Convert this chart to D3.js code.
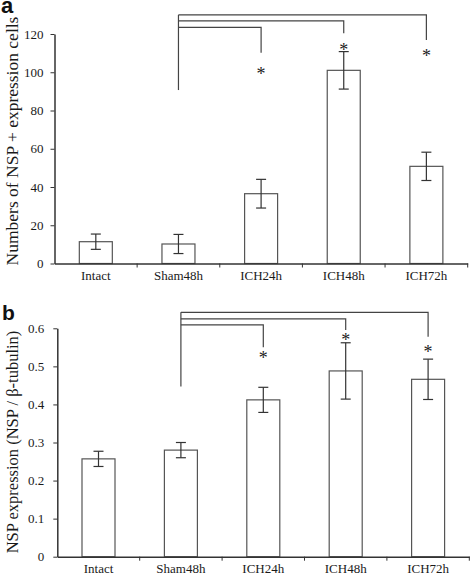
<!DOCTYPE html>
<html><head><meta charset="utf-8">
<script src="https://cdn.jsdelivr.net/npm/d3@7"></script>
<style>body{margin:0;background:#fff}svg{display:block}</style>
</head><body>
<script>
const categories = ["Intact","Sham48h","ICH24h","ICH48h","ICH72h"];
// Panel a
const countMeans = [11.4, 10.2, 36.5, 101, 50.8];
const countErrs  = [4.0, 5.0, 7.5, 9.8, 7.4];
const countTicks = [0,20,40,60,80,100,120];
// Panel b
const exprMeans = [0.257, 0.280, 0.412, 0.488, 0.466];
const exprErrs  = [0.020, 0.020, 0.033, 0.074, 0.053];
const exprTicks = [0,0.1,0.2,0.3,0.4,0.5,0.6];
// significance brackets: from Sham48h to target, level, end
const bracketA = {start:90.7, levels:[123.5,126.9,130], targets:["ICH24h","ICH48h","ICH72h"], ends:[110.2,120.4,116.9], stars:[100.7,113.4,110.2]};
const bracketB = {start:0.447, levels:[0.609,0.625,0.642], targets:["ICH24h","ICH48h","ICH72h"], ends:[0.550,0.5955,0.578], stars:[0.530,0.578,0.545]};

const W=472,H=575;
const svg=d3.select("body").append("svg").attr("width",W).attr("height",H);
const serif="Liberation Serif, Times New Roman, serif";

function panel(o){
  const g=svg.append("g");
  const x=d3.scaleBand().domain(categories).range([o.x0,o.x1]);
  const y=d3.scaleLinear().domain([0,o.max]).range([o.y0,o.yTop]);
  const bw=33;
  g.selectAll("rect.bar").data(categories).join("rect")
    .attr("x",d=>x(d)+x.bandwidth()/2-bw/2).attr("width",bw)
    .attr("y",(d,i)=>y(o.means[i])).attr("height",(d,i)=>y(0)-y(o.means[i]))
    .attr("fill","#fff").attr("stroke","#555").attr("stroke-width",1.2);
  const cap=10;
  categories.forEach((c,i)=>{
    const cx=x(c)+x.bandwidth()/2;
    const hi=y(o.means[i]+o.errs[i]), lo=y(o.means[i]-o.errs[i]);
    g.append("line").attr("x1",cx).attr("x2",cx).attr("y1",hi).attr("y2",lo).attr("stroke","#333").attr("stroke-width",1.2);
    [hi,lo].forEach(v=>g.append("line").attr("x1",cx-cap/2).attr("x2",cx+cap/2).attr("y1",v).attr("y2",v).attr("stroke","#333").attr("stroke-width",1.2));
  });
  const ya=g.append("g").attr("transform",`translate(${o.x0},0)`)
    .call(d3.axisLeft(y).tickValues(o.ticks).tickSize(4).tickSizeOuter(0).tickFormat(o.fmt));
  ya.select(".domain").attr("stroke","#333").attr("stroke-width",1.5);
  ya.selectAll(".tick line").attr("stroke","#333");
  ya.selectAll("text").attr("font-family",serif).attr("font-size",13).attr("fill","#1a1a1a").attr("x",o.tickGap);
  const xa=g.append("g").attr("transform",`translate(0,${o.y0})`)
    .call(d3.axisBottom(x).tickSize(0).tickSizeOuter(0));
  xa.select(".domain").attr("stroke","#333").attr("stroke-width",1.5);
  xa.selectAll("text").attr("font-family",serif).attr("font-size",13).attr("fill","#1a1a1a").attr("dy","1.0em");
  const bounds=categories.map(c=>x(c)+x.bandwidth());
  g.selectAll("line.bt").data(bounds).join("line").attr("x1",d=>d).attr("x2",d=>d)
    .attr("y1",o.y0).attr("y2",o.y0+4).attr("stroke","#333");
  const b=o.br;
  const sx=x("Sham48h")+x.bandwidth()/2;
  g.append("line").attr("x1",sx).attr("x2",sx).attr("y1",y(b.start)).attr("y2",y(d3.max(b.levels))).attr("stroke","#444").attr("stroke-width",1.2);
  b.targets.forEach((t,i)=>{
    const tx=x(t)+x.bandwidth()/2;
    g.append("path").attr("d",`M${sx},${y(b.levels[i])}H${tx}V${y(b.ends[i])}`)
      .attr("fill","none").attr("stroke","#444").attr("stroke-width",1.2);
    g.append("text").attr("x",tx).attr("y",y(b.stars[i])).attr("text-anchor","middle")
      .attr("dy","0.5em").attr("font-family",serif).attr("font-size",18).attr("fill","#222").text("*");
  });
  g.append("text").attr("transform",`translate(${o.titleX},${o.titleY}) rotate(-90)`)
    .attr("text-anchor","middle").attr("dy","0.35em")
    .attr("font-family",serif).attr("font-size",o.titleSize).attr("fill","#1a1a1a").text(o.title);
  svg.append("text").attr("x",o.labelX).attr("y",o.labelY).attr("font-family","Liberation Sans, Arial, sans-serif")
    .attr("font-weight","bold").attr("font-size",o.labelSize).attr("fill","#111").text(o.label);
}

panel({x0:54.5,x1:467.7,y0:263.5,yTop:34,max:120,means:countMeans,errs:countErrs,ticks:countTicks,fmt:d3.format("d"),
  br:bracketA,title:"Numbers of NSP + expression cells",titleX:12,titleY:141,titleSize:17.5,tickGap:-11,
  label:"a",labelX:1,labelY:12.5,labelSize:22});
panel({x0:57.3,x1:469.3,y0:556.7,yTop:328.3,max:0.6,means:exprMeans,errs:exprErrs,ticks:exprTicks,fmt:d=>d===0?"0":d3.format(".1f")(d),
  br:bracketB,title:"NSP expression (NSP / β-tubulin)",titleX:12,titleY:442,titleSize:16.5,tickGap:-13,
  label:"b",labelX:2,labelY:320,labelSize:21});
</script>
</body></html>
